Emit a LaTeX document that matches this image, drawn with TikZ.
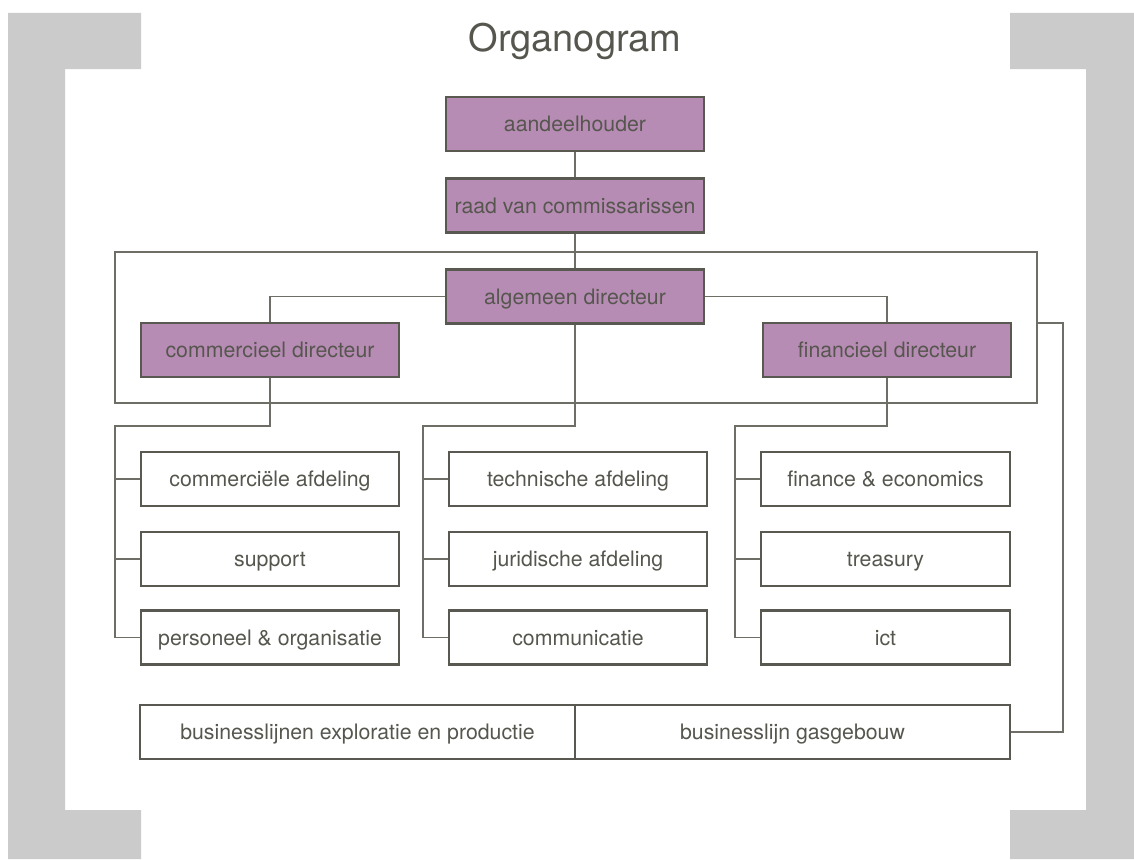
\documentclass[tikz,border=0pt]{standalone}
\usepackage{fontspec}
\setmainfont{TeX Gyre Heros}
\usepackage{tikz}
\usetikzlibrary{calc}
\definecolor{color_org_frame}{HTML}{CBCBCB}
\definecolor{color_org_fill}{HTML}{B78CB4}
\definecolor{color_org_border}{HTML}{595951}
\definecolor{color_org_line}{HTML}{6E6E66}
\definecolor{color_org_text}{HTML}{56564F}
\def\orgboxwidth{258pt}
\def\orgboxheight{54pt}
\def\orgtextsize{\fontsize{21.3}{25}\selectfont}
\tikzset{
    orgbox/.style={draw=color_org_border, line width=2.4pt, minimum width=\orgboxwidth,
        minimum height=\orgboxheight, inner sep=0pt, text=color_org_text,
        font=\orgtextsize, text height=15pt, text depth=0pt},
    orghead/.style={orgbox, fill=color_org_fill},
    orgunit/.style={orgbox, fill=white},
    orgline/.style={draw=color_org_line, line width=1.3pt}
}

\begin{document}
\begin{tikzpicture}[x=1pt,y=-1pt]
        \useasboundingbox (0,0) rectangle (1134,859);
        % grey frame pieces
        \fill[color_org_frame] (8,13) -- (141,13) -- (141,69) -- (65,69) -- (65,810) -- (141,810) -- (141,859) -- (8,859) -- cycle;
        \fill[color_org_frame] (1010,13) -- (1134,13) -- (1134,859) -- (1010,859) -- (1010,810) -- (1086,810) -- (1086,69) -- (1010,69) -- cycle;
        \node[text=color_org_text, font=\fontsize{38}{44}\selectfont, anchor=base] (title) at (575,52) {Organogram};
        % board frame
        \node[draw=color_org_line, line width=1.3pt, minimum width=922pt, minimum height=151pt, inner sep=0pt] (board) at (576,327.5) {};
        % top of the organisation
        \node[orghead] (aandeel) at (575,124) {aandeelhouder};
        \node[orghead] (raad) at (575,205.5) {raad van commissarissen};
        \node[orghead] (algdir) at (575,296.5) {algemeen directeur};
        \node[orghead] (comdir) at (270,350) {commercieel directeur};
        \node[orghead, minimum width=248pt] (findir) at (887,350) {financieel directeur};
        % departments
        \node[orgunit] (comafd) at (270,479) {commerciële afdeling};
        \node[orgunit] (support) at (270,559) {support};
        \node[orgunit] (persorg) at (270,637.5) {personeel \& organisatie};
        \node[orgunit] (techafd) at (578,479) {technische afdeling};
        \node[orgunit] (juriafd) at (578,559) {juridische afdeling};
        \node[orgunit] (commun) at (578,637.5) {communicatie};
        \node[orgunit, minimum width=249pt] (finec) at (885.5,479) {finance \& economics};
        \node[orgunit, minimum width=249pt] (treasury) at (885.5,559) {treasury};
        \node[orgunit, minimum width=249pt] (ict) at (885.5,637.5) {ict};
        % business lines
        \node[orgunit, minimum width=435pt] (blexpl) at (357.5,732) {businesslijnen exploratie en productie};
        \node[orgunit, minimum width=435pt] (blgas) at (792.5,732) {businesslijn gasgebouw};
        % connectors
        \coordinate (leftrail) at (115,426);
        \coordinate (midrail) at (423,426);
        \coordinate (rightrail) at (735,426);
        \coordinate (boardbend) at (1063,323);
        \draw[orgline] (aandeel) -- (raad);
        \draw[orgline] (raad) -- (algdir);
        \draw[orgline] (algdir.west) -| (comdir.north);
        \draw[orgline] (algdir.east) -| (findir.north);
        \draw[orgline] (comdir.south) |- (leftrail) |- (persorg.west);
        \draw[orgline] (algdir.south) |- (midrail) |- (commun.west);
        \draw[orgline] (findir.south) |- (rightrail) |- (ict.west);
        \foreach \n/\r in {comafd/leftrail,support/leftrail,techafd/midrail,juriafd/midrail,finec/rightrail,treasury/rightrail}
            \draw[orgline] (\r |- \n.west) -- (\n.west);
        \draw[orgline] (board.east |- boardbend) -- (boardbend) |- (blgas.east);
\end{tikzpicture}
\end{document}
